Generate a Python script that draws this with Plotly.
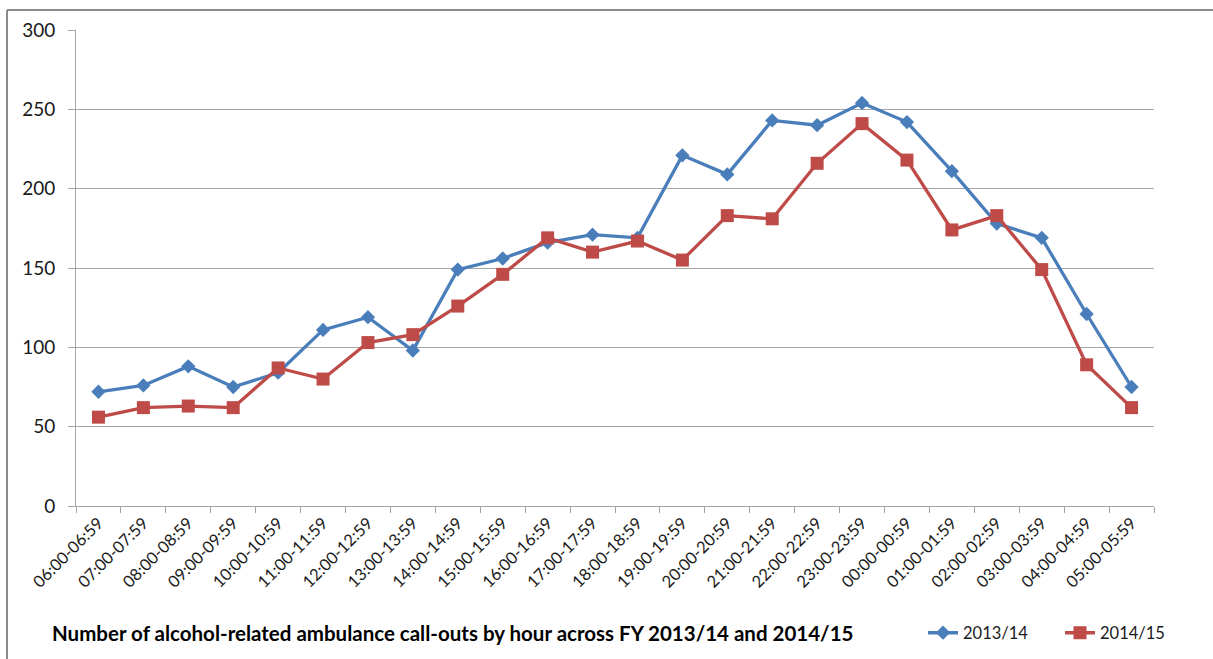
import plotly.graph_objects as go

# Hourly bands, starting at 06:00
hours = [
    "06:00-06:59", "07:00-07:59", "08:00-08:59", "09:00-09:59", "10:00-10:59",
    "11:00-11:59", "12:00-12:59", "13:00-13:59", "14:00-14:59", "15:00-15:59",
    "16:00-16:59", "17:00-17:59", "18:00-18:59", "19:00-19:59", "20:00-20:59",
    "21:00-21:59", "22:00-22:59", "23:00-23:59", "00:00-00:59", "01:00-01:59",
    "02:00-02:59", "03:00-03:59", "04:00-04:59", "05:00-05:59",
]

# Call-out counts per hour
fy_2013_14 = [72, 76, 88, 75, 84, 111, 119, 98, 149, 156, 166, 171,
              169, 221, 209, 243, 240, 254, 242, 211, 178, 169, 121, 75]
fy_2014_15 = [56, 62, 63, 62, 87, 80, 103, 108, 126, 146, 169, 160,
              167, 155, 183, 181, 216, 241, 218, 174, 183, 149, 89, 62]

y_ticks = [0, 50, 100, 150, 200, 250, 300]

BLUE = "#4A7EBB"
RED = "#BE4B48"
FONT = "Lato"

W, H = 1213, 659
L, R, T, B = 76, 59, 30, 153
plot_w = W - L - R
plot_h = H - T - B


def px_x(px):
    return (px - L) / plot_w


def px_y(py):
    return (H - B - py) / plot_h


fig = go.Figure()
fig.add_trace(go.Scatter(
    x=hours, y=fy_2013_14, name="2013/14", mode="lines+markers",
    line=dict(color=BLUE, width=3.3),
    marker=dict(symbol="diamond", size=11, color=BLUE),
))
fig.add_trace(go.Scatter(
    x=hours, y=fy_2014_15, name="2014/15", mode="lines+markers",
    line=dict(color=RED, width=3.3),
    marker=dict(symbol="square", size=13, color=RED),
))

fig.update_layout(
    width=W, height=H,
    margin=dict(l=L, r=R, t=T, b=B, autoexpand=False),
    paper_bgcolor="white", plot_bgcolor="white",
    font=dict(family=FONT, color="#1a1a1a"),
    showlegend=True,
    legend=dict(
        orientation="h", x=px_x(923), y=px_y(633),
        xanchor="left", yanchor="middle",
        font=dict(size=16.5, family=FONT, color="#1a1a1a"),
        itemwidth=30, tracegroupgap=0,
        entrywidth=92, entrywidthmode="pixels",
        bgcolor="rgba(0,0,0,0)",
    ),
    xaxis=dict(
        type="category", range=[-0.5, len(hours) - 0.5],
        showgrid=False, showline=True, linecolor="#A6A6A6", linewidth=1,
        ticks="outside", ticklen=6, tickcolor="#A6A6A6",
        tickson="boundaries",
        tickangle=-45, tickfont=dict(size=16.5, family=FONT, color="#1a1a1a"),
        zeroline=False,
    ),
    yaxis=dict(
        range=[0, 300], tickvals=y_ticks,
        showgrid=True, gridcolor="#A6A6A6", gridwidth=1,
        showline=True, linecolor="#A6A6A6", linewidth=1,
        ticks="outside", ticklen=7, tickcolor="#A6A6A6",
        tickfont=dict(size=19, family=FONT, color="#1a1a1a"),
        ticklabelstandoff=9,
        zeroline=False,
    ),
    annotations=[dict(
        text="<b>Number of alcohol-related ambulance call-outs by hour across FY 2013/14 and 2014/15</b>",
        xref="paper", yref="paper", x=px_x(50), y=px_y(633),
        xanchor="left", yanchor="middle", showarrow=False,
        font=dict(size=20.5, family=FONT, color="#000000"),
    )],
    shapes=[
        # chart frame: top and left edges
        dict(type="line", xref="paper", yref="paper",
             x0=px_x(7), x1=px_x(1230), y0=px_y(10), y1=px_y(10),
             line=dict(color="#8C8C8C", width=2)),
        dict(type="line", xref="paper", yref="paper",
             x0=px_x(7), x1=px_x(7), y0=px_y(10), y1=px_y(680),
             line=dict(color="#8C8C8C", width=2)),
    ],
)

fig.write_html("out.html")
